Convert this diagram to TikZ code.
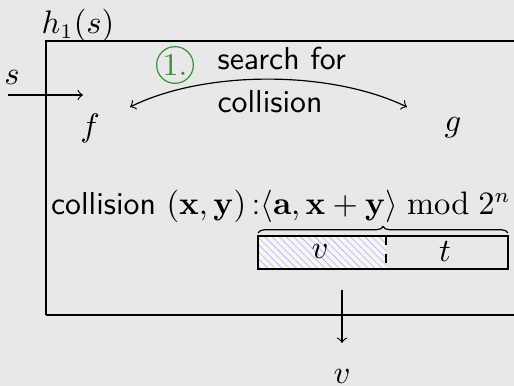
\documentclass[tikz,border=0pt]{standalone}
\usetikzlibrary{decorations.pathreplacing,patterns.meta}
\definecolor{bg}{RGB}{232,232,232}
\definecolor{numgreen}{RGB}{60,140,60}
\definecolor{hatch}{RGB}{175,175,235}
\begin{document}
\begin{tikzpicture}[x=0.3367pt,y=-0.3367pt,
  every node/.style={font=\fontsize{10.7}{13}\selectfont},
  lbl/.style={inner sep=0pt,outer sep=0pt},
  conn/.style={->,line width=0.4pt},
  txt/.style={inner sep=0pt,font=\fontsize{10.7}{13}\selectfont\sffamily}]
\fill[bg] (0,0) rectangle (514,386);
\useasboundingbox (0,0) rectangle (514,386);
\clip (0,0) rectangle (514,386);
% outer box
\draw[line width=0.4pt] (46,315) -- (46,41) -- (530,41);
\draw[line width=0.4pt] (46,315) -- (530,315);
\node[lbl] (h) at (78,25) {$h_1(s)$};
% input s
\node[lbl] (s) at (12,78) {$s$};
\coordinate (sin) at (8,95);
\coordinate (sout) at (83,95);
\draw[conn] (sin) -- (sout);
\node[lbl] (f) at (90,128) {$f$};
\node[lbl] (g) at (453,128) {$g$};
% search arrow
\coordinate (cl) at (130,107);
\coordinate (cr) at (407,107);
\draw[<->,line width=0.4pt] (cl) .. controls (205,70) and (330,70) .. (cr);
\node[circle,draw=numgreen,text=numgreen,inner sep=0.5pt,minimum size=11.8pt] (one) at (175,65) {1.};
\node[txt,align=left,anchor=west] (search) at (217,80) {search for\\[1.5pt]collision};
% collision line
\node[lbl] (coll) at (281,206) {\textsf{collision} $(\mathbf{x},\mathbf{y})$\,\textsf{:}$\langle\mathbf{a},\mathbf{x}+\mathbf{y}\rangle \bmod 2^n$};
% bit string
\coordinate (bl) at (258,236);
\coordinate (bm) at (386,269);
\coordinate (bmt) at (386,236);
\coordinate (br) at (508,269);
\fill[white!60!bg] (bl) rectangle (bm);
\fill[pattern={Lines[angle=-45,distance=1.7pt,line width=0.2pt]},pattern color=hatch] (bl) rectangle (bm);
\draw[line width=0.4pt] (bl) rectangle (br);
\draw[dashed,line width=0.4pt] (bmt) -- (bm);
\node[lbl] (vcell) at (320,252) {$v$};
\node[lbl] (tcell) at (445,252) {$t$};
\coordinate (brl) at (258,233);
\coordinate (brr) at (508,233);
\draw[decorate,decoration={brace,amplitude=2.2pt},line width=0.4pt] (brl) -- (brr);
% output
\coordinate (oin) at (342,290);
\coordinate (oout) at (342,343);
\draw[conn] (oin) -- (oout);
\node[lbl] (vout) at (342,377) {$v$};
\end{tikzpicture}
\end{document}
